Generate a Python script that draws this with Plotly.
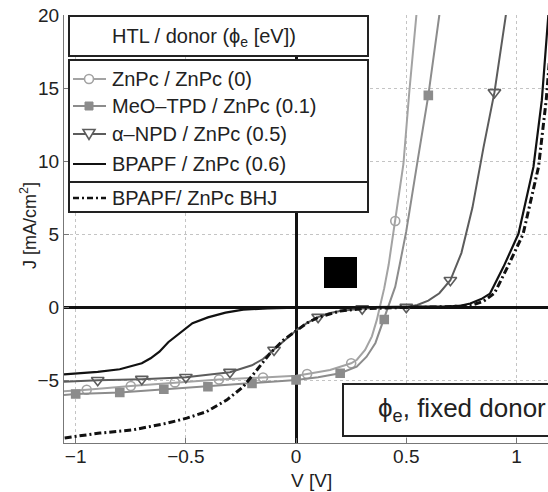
import plotly.graph_objects as go

# ---------------- data ----------------
v_znpc = [-1.053, -0.95, -0.75, -0.55, -0.35, -0.15, 0.0, 0.05, 0.154, 0.25, 0.276, 0.313,
          0.344, 0.366, 0.381, 0.40, 0.42, 0.45, 0.487, 0.514, 0.545, 0.56]
j_znpc = [-5.75, -5.65, -5.4, -5.15, -4.95, -4.82, -4.7, -4.58, -4.3, -3.84, -3.6, -2.93,
          -2.0, -0.89, 0.0, 1.3, 2.9, 5.9, 9.8, 14.8, 19.9, 22.3]
mk_znpc = [-0.95, -0.75, -0.55, -0.35, -0.15, 0.05, 0.25, 0.45]

v_meo = [-1.053, -1.0, -0.8, -0.6, -0.4, -0.2, 0.0, 0.1, 0.2, 0.275, 0.32, 0.36, 0.38,
         0.4, 0.42, 0.45, 0.47, 0.5, 0.55, 0.6, 0.65, 0.67]
j_meo = [-6.02, -5.95, -5.84, -5.62, -5.45, -5.23, -4.98, -4.8, -4.52, -4.07, -3.39, -2.45,
         -1.6, -0.85, 0.05, 1.4, 2.9, 5.2, 9.9, 14.5, 20.0, 22.2]
mk_meo = [-1.0, -0.8, -0.6, -0.4, -0.2, 0.0, 0.2, 0.4, 0.6]

v_npd = [-1.053, -0.9, -0.7, -0.5, -0.3, -0.2, -0.15, -0.1, -0.05, 0.0, 0.05, 0.1, 0.15,
         0.2, 0.3, 0.4, 0.5, 0.55, 0.6, 0.65, 0.7, 0.75, 0.8, 0.85, 0.9, 0.95, 0.97]
j_npd = [-5.1, -5.0, -4.93, -4.8, -4.45, -3.98, -3.55, -2.93, -2.25, -1.6, -1.08, -0.68,
         -0.42, -0.26, -0.1, -0.04, 0.0, 0.15, 0.45, 0.95, 1.84, 3.7, 6.8, 10.9, 14.7, 19.8, 22.0]
mk_npd = [-0.9, -0.7, -0.5, -0.3, -0.1, 0.1, 0.3, 0.5, 0.7, 0.9]

v_bpapf = [-1.053, -0.9, -0.8, -0.74, -0.7, -0.66, -0.62, -0.58, -0.53, -0.47, -0.4, -0.32,
           -0.24, -0.13, 0.0, 0.2, 0.5, 0.7, 0.75, 0.79, 0.84, 0.88, 0.941, 1.009, 1.077,
           1.115, 1.138, 1.16]
j_bpapf = [-4.6, -4.43, -4.25, -4.03, -3.84, -3.5, -3.05, -2.4, -1.8, -1.1, -0.7, -0.38,
           -0.17, -0.08, -0.04, -0.02, 0.0, 0.05, 0.1, 0.25, 0.55, 0.93, 2.76, 5.02, 9.6,
           14.17, 18.7, 23.0]

v_bhj = [-1.05, -0.89, -0.74, -0.587, -0.496, -0.405, -0.315, -0.24, -0.178, -0.118, -0.058,
         0.0, 0.05, 0.1, 0.2, 0.3, 0.4, 0.5, 0.6, 0.7, 0.75, 0.8, 0.85, 0.9, 0.96, 1.03,
         1.1, 1.135, 1.16, 1.18]
j_bhj = [-8.95, -8.62, -8.4, -7.95, -7.6, -7.15, -6.36, -5.45, -4.3, -3.16, -2.26, -1.6,
         -1.08, -0.7, -0.27, -0.1, -0.04, -0.02, 0.0, 0.03, 0.07, 0.15, 0.4, 0.95, 2.76, 5.0,
         9.6, 14.2, 18.7, 22.5]

x_ticks = [-1, -0.5, 0, 0.5, 1]
x_ticktext = ["\u22121", "\u22120.5", "0", "0.5", "1"]
y_ticks = [-5, 0, 5, 10, 15, 20]
y_ticktext = ["\u22125", "0", "5", "10", "15", "20"]

legend_title = "HTL / donor (\u03d5<sub>e</sub> [eV])"
labels = ["ZnPc / ZnPc (0)", "MeO\u2013TPD / ZnPc (0.1)", "\u03b1\u2013NPD / ZnPc (0.5)",
          "BPAPF / ZnPc (0.6)"]
label_bhj = "BPAPF/ ZnPc BHJ"
box_text = "\u03d5<sub>e</sub>, fixed donor"

# ---------------- layout geometry ----------------
W, H = 548, 492
ML, MR, MT, MB = 64, 0, 15, 49
PW, PH = W - ML - MR, H - MT - MB
X_RANGE = [-1.053, 1.143]
Y_RANGE = [-9.3, 20.0]


def px(p):
    return (p - ML) / PW


def py(p):
    return (MT + PH - p) / PH


C_ZN, C_MEO, C_NPD, C_BLK = "#a3a3a3", "#8c8c8c", "#5c5c5c", "#111111"
FONT = "Liberation Sans, Arial, sans-serif"

fig = go.Figure()

series = [
    (v_znpc, j_znpc, mk_znpc, C_ZN, "circle-open", 9),
    (v_meo, j_meo, mk_meo, C_MEO, "square", 8),
    (v_npd, j_npd, mk_npd, C_NPD, "triangle-down-open", 11),
]
for v, j, mk, col, sym, ms in series:
    fig.add_trace(go.Scatter(x=v, y=j, mode="lines", line=dict(color=col, width=2),
                             showlegend=False, hoverinfo="skip"))
    keep = [any(abs(a - m) < 1e-9 for m in mk) for a in v]
    mv = [a for a, k in zip(v, keep) if k]
    mj = [b for b, k in zip(j, keep) if k]
    fig.add_trace(go.Scatter(x=mv, y=mj, mode="markers",
                             marker=dict(symbol=sym, size=ms, color=col,
                                         line=dict(color=col, width=1.6)),
                             showlegend=False, hoverinfo="skip"))

fig.add_trace(go.Scatter(x=v_bpapf, y=j_bpapf, mode="lines",
                         line=dict(color=C_BLK, width=2.2), showlegend=False))
fig.add_trace(go.Scatter(x=v_bhj, y=j_bhj, mode="lines",
                         line=dict(color=C_BLK, width=3, dash="7px,3px,2px,3px"),
                         showlegend=False))

shapes = []
anns = []
BORDER = dict(color="#222222", width=2)
LX0, LX1 = 69, 368
# legend boxes
for (y0, y1) in [(16, 56), (60, 182), (182, 212)]:
    shapes.append(dict(type="rect", xref="paper", yref="paper", x0=px(LX0), x1=px(LX1),
                       y0=py(y1), y1=py(y0), fillcolor="white", line=BORDER, layer="above"))
anns.append(dict(xref="paper", yref="paper", x=px(110), y=py(38), xanchor="left",
                 yanchor="middle", text=legend_title, showarrow=False,
                 font=dict(family=FONT, size=20, color="#222")))

rows = [79, 106, 134, 164]
styles = [(C_ZN, "circle"), (C_MEO, "square"), (C_NPD, "tri"), (C_BLK, None)]
for yc, lab, (col, mkr) in zip(rows, labels, styles):
    shapes.append(dict(type="line", xref="paper", yref="paper", x0=px(73), x1=px(106),
                       y0=py(yc), y1=py(yc), line=dict(color=col, width=2.2), layer="above"))
    if mkr == "circle":
        shapes.append(dict(type="circle", xref="paper", yref="paper", x0=px(84.5), x1=px(93.5),
                           y0=py(yc + 4.5), y1=py(yc - 4.5), fillcolor="white",
                           line=dict(color=col, width=1.6), layer="above"))
    elif mkr == "square":
        shapes.append(dict(type="rect", xref="paper", yref="paper", x0=px(85), x1=px(93),
                           y0=py(yc + 4), y1=py(yc - 4), fillcolor=col,
                           line=dict(color=col, width=1), layer="above"))
    elif mkr == "tri":
        path = "M {:.5f},{:.5f} L {:.5f},{:.5f} L {:.5f},{:.5f} Z".format(
            px(83), py(yc - 4.5), px(95), py(yc - 4.5), px(89), py(yc + 5.5))
        shapes.append(dict(type="path", xref="paper", yref="paper", path=path,
                           fillcolor="white", line=dict(color=col, width=1.6), layer="above"))
    anns.append(dict(xref="paper", yref="paper", x=px(110), y=py(yc), xanchor="left",
                     yanchor="middle", text=lab, showarrow=False,
                     font=dict(family=FONT, size=20, color="#222")))

shapes.append(dict(type="line", xref="paper", yref="paper", x0=px(73), x1=px(106),
                   y0=py(198), y1=py(198),
                   line=dict(color=C_BLK, width=2.5, dash="6px,3px,2px,3px"), layer="above"))
anns.append(dict(xref="paper", yref="paper", x=px(110), y=py(198), xanchor="left",
                 yanchor="middle", text=label_bhj, showarrow=False,
                 font=dict(family=FONT, size=20, color="#222")))

# "phi_e, fixed donor" box
shapes.append(dict(type="rect", xref="paper", yref="paper", x0=px(343), x1=px(570),
                   y0=py(436), y1=py(384), fillcolor="white", line=BORDER, layer="above"))
anns.append(dict(xref="paper", yref="paper", x=px(376), y=py(409), xanchor="left",
                 yanchor="middle", text=box_text, showarrow=False,
                 font=dict(family=FONT, size=26, color="#222")))

# black square
shapes.append(dict(type="rect", xref="paper", yref="paper", x0=px(324), x1=px(357),
                   y0=py(288), y1=py(257), fillcolor="black", line=dict(width=0),
                   layer="above"))

# axis titles
anns.append(dict(xref="paper", yref="paper", x=px(28), y=py(226), xanchor="center",
                 yanchor="middle", textangle=-90, text="J [mA/cm<sup>2</sup>]",
                 showarrow=False, font=dict(family=FONT, size=18, color="#222")))
anns.append(dict(xref="paper", yref="paper", x=px(311), y=py(480), xanchor="center",
                 yanchor="middle", text="V [V]", showarrow=False,
                 font=dict(family=FONT, size=19, color="#222")))

fig.update_layout(
    width=W, height=H,
    margin=dict(l=ML, r=MR, t=MT, b=MB, pad=0),
    paper_bgcolor="white", plot_bgcolor="white",
    shapes=shapes, annotations=anns,
    font=dict(family=FONT, size=19, color="#222"),
)
fig.update_xaxes(range=X_RANGE, tickvals=x_ticks, ticktext=x_ticktext,
                 showgrid=True, gridcolor="#c4c4c4", griddash="dot", gridwidth=1,
                 zeroline=True, zerolinecolor="#111", zerolinewidth=2.5,
                 showline=True, linecolor="#777", linewidth=1,
                 ticks="inside", ticklen=5, tickcolor="#777", ticklabelstandoff=-4,
                 tickfont=dict(family=FONT, size=19, color="#222"))
fig.update_yaxes(range=Y_RANGE, tickvals=y_ticks, ticktext=y_ticktext,
                 showgrid=True, gridcolor="#c4c4c4", griddash="dot", gridwidth=1,
                 zeroline=True, zerolinecolor="#111", zerolinewidth=2.5,
                 showline=True, linecolor="#777", linewidth=1,
                 ticks="inside", ticklen=5, tickcolor="#777",
                 tickfont=dict(family=FONT, size=19, color="#222"))

fig.write_html("out.html")
